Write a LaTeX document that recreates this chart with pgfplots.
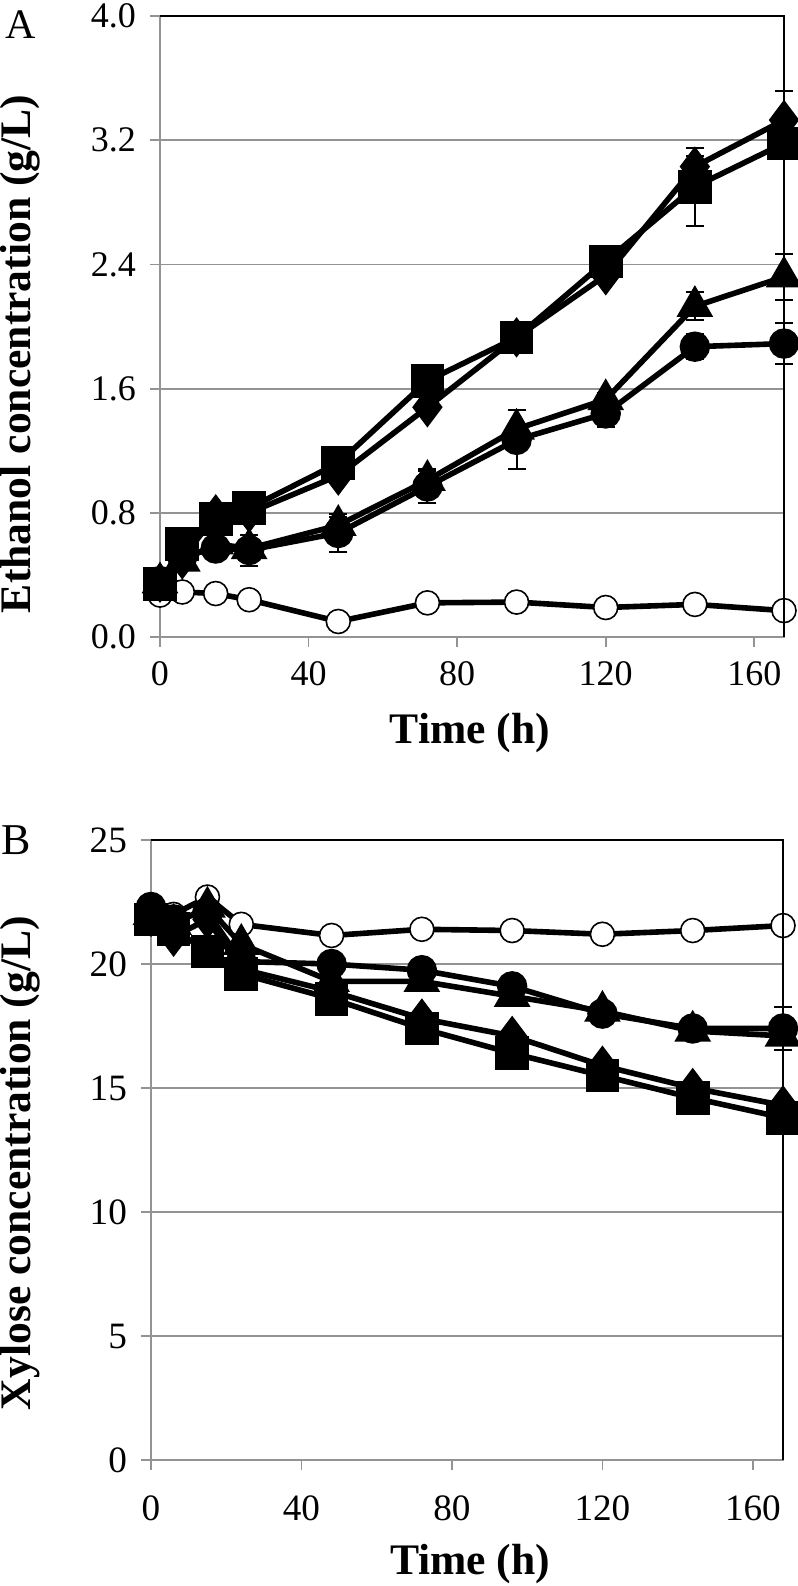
\documentclass[border=0pt]{standalone}
\usepackage{fontspec}
\setmainfont{Liberation Serif}
\usepackage{pgfplots}
\pgfplotsset{compat=1.18}
\begin{document}
\begin{tikzpicture}
\path[use as bounding box] (0,0) rectangle (199.5pt,-396.5pt);
\pgfplotsset{
 common/.style={
  scale only axis, anchor=north west,
  xmin=0, xmax=168, xtick={0,40,80,120,160},
  axis line style={draw=gray!85, line width=0.45pt},
  tick style={draw=gray!85, line width=0.45pt},
  tick align=outside, tick pos=left, major tick length=2.5pt,
  ymajorgrids, grid style={gray!85, line width=0.45pt},
  /pgf/number format/assume math mode=true,
  ticklabel style={font=\fontsize{9}{10}\selectfont},
  clip=false,
  after end axis/.code={\draw[black, line width=0.45pt] (rel axis cs:0,1) -- (rel axis cs:1,1) -- (rel axis cs:1,0);},
  error bars/error bar style={line width=0.5pt, black},
  error bars/error mark options={rotate=90, mark size=2.25pt, line width=0.5pt, black},
 },
 ln/.style={black, line width=1.4pt},
 sq/.style={ln, mark=square*, mark size=3.5pt, mark options={solid, fill=black}},
 dm/.style={ln, mark=diamond*, mark size=3.9pt, mark options={solid, fill=black}},
 tr/.style={ln, mark=triangle*, mark size=3.9pt, mark options={solid, fill=black}},
 ci/.style={ln, mark=*, mark size=3.1pt, mark options={solid, fill=black}},
 oc/.style={ln, mark=*, mark size=3.0pt, mark options={solid, fill=white, draw=black, line width=0.4pt}},
 ocerr/.style={draw=none, mark=none, forget plot, error bars/.cd, y dir=both, y explicit,
   error bar style={draw=black, line width=0.3pt},
   error mark options={draw=black, rotate=90, mark size=1.3pt, line width=0.3pt}},
}
% Panel A
\begin{axis}[common,
  at={(40pt,-4pt)}, width=156pt, height=155.25pt,
  ymin=0, ymax=4, ytick={0,0.8,1.6,2.4,3.2,4.0},
  yticklabel style={/pgf/number format/.cd, fixed, fixed zerofill, precision=1},
  xlabel={\fontsize{10.9}{12}\selectfont\bfseries Time (h)},
  ylabel={\fontsize{10.9}{12}\selectfont\bfseries Ethanol concentration (g/L)},
  every axis x label/.style={at={(axis description cs:0.497,-0.155)}, anchor=center},
  every axis y label/.style={at={(axis description cs:-0.224,0.456)}, rotate=90, anchor=center},
]
\addplot[oc] coordinates {
 (0,0.27) (6,0.29) (15,0.28) (24,0.24) (48,0.10) (72,0.22) (96,0.225) (120,0.19) (144,0.21) (168,0.17)};
\addplot[ocerr] coordinates {
 (0,0.27) +- (0,0.025) (6,0.29) +- (0,0.025) (15,0.28) +- (0,0.025) (24,0.24) +- (0,0.035)
 (48,0.10) +- (0,0.025) (72,0.22) +- (0,0.025) (96,0.225) +- (0,0.025) (120,0.19) +- (0,0.025)
 (144,0.21) +- (0,0.025) (168,0.17) +- (0,0.025)};
\addplot[ci, error bars/.cd, y dir=both, y explicit] coordinates {
 (0,0.36) +- (0,0.02) (6,0.52) +- (0,0.02) (15,0.57) +- (0,0.04) (24,0.56) +- (0,0.10)
 (48,0.67) +- (0,0.12) (72,0.97) +- (0,0.11) (96,1.27) +- (0,0.19) (120,1.44) +- (0,0.09)
 (144,1.87) +- (0,0.08) (168,1.89) +- (0,0.13)};
\addplot[tr, error bars/.cd, y dir=both, y explicit] coordinates {
 (0,0.35) +- (0,0.02) (6,0.49) +- (0,0.02) (15,0.60) +- (0,0.03) (24,0.57) +- (0,0.05)
 (48,0.72) +- (0,0.05) (72,1.01) +- (0,0.06) (96,1.34) +- (0,0.12) (120,1.53) +- (0,0.04)
 (144,2.13) +- (0,0.09) (168,2.32) +- (0,0.15)};
\addplot[dm, error bars/.cd, y dir=both, y explicit] coordinates {
 (0,0.35) +- (0,0.02) (6,0.50) +- (0,0.02) (15,0.79) +- (0,0.03) (24,0.80) +- (0,0.03)
 (48,1.04) +- (0,0.03) (72,1.48) +- (0,0.03) (96,1.93) +- (0,0.03) (120,2.33) +- (0,0.03)
 (144,3.03) +- (0,0.07) (168,3.33) +- (0,0.19)};
\addplot[sq, error bars/.cd, y dir=both, y explicit] coordinates {
 (0,0.34) +- (0,0.02) (6,0.60) +- (0,0.03) (15,0.76) +- (0,0.03) (24,0.83) +- (0,0.03)
 (48,1.12) +- (0,0.03) (72,1.65) +- (0,0.03) (96,1.93) +- (0,0.03) (120,2.42) +- (0,0.03)
 (144,2.90) +- (0,0.25) (168,3.18) +- (0,0.09)};
\end{axis}
% Panel B
\begin{axis}[common,
  at={(37.75pt,-210pt)}, width=158pt, height=155pt,
  ymin=0, ymax=25, ytick={0,5,10,15,20,25},
  ticklabel style={font=\fontsize{9.3}{10}\selectfont},
  xticklabel style={yshift=-3pt},
  xlabel={\fontsize{10.9}{12}\selectfont\bfseries Time (h)},
  ylabel={\fontsize{10.9}{12}\selectfont\bfseries Xylose concentration (g/L)},
  every axis x label/.style={at={(axis description cs:0.505,-0.168)}, anchor=center},
  every axis y label/.style={at={(axis description cs:-0.207,0.479)}, rotate=90, anchor=center},
]
\addplot[oc] coordinates {
 (0,22.0) (6,22.0) (15,22.7) (24,21.6) (48,21.15) (72,21.4) (96,21.35) (120,21.2) (144,21.35) (168,21.55)};
\addplot[ocerr] coordinates {
 (0,22.0) +- (0,0.2) (6,22.0) +- (0,0.2) (15,22.7) +- (0,0.2) (24,21.6) +- (0,0.2)
 (48,21.15) +- (0,0.3) (72,21.4) +- (0,0.3) (96,21.35) +- (0,0.3) (120,21.2) +- (0,0.3)
 (144,21.35) +- (0,0.3) (168,21.55) +- (0,0.3)};
\addplot[ci, error bars/.cd, y dir=both, y explicit] coordinates {
 (0,22.3) +- (0,0.2) (6,21.8) +- (0,0.2) (15,22.1) +- (0,0.2) (24,20.1) +- (0,0.2)
 (48,20.0) +- (0,0.2) (72,19.75) +- (0,0.2) (96,19.1) +- (0,0.2) (120,18.0) +- (0,0.2)
 (144,17.4) +- (0,0.2) (168,17.4) +- (0,0.85)};
\addplot[tr, error bars/.cd, y dir=both, y explicit] coordinates {
 (0,22.0) +- (0,0.2) (6,21.6) +- (0,0.2) (15,22.3) +- (0,0.2) (24,20.8) +- (0,0.2)
 (48,19.3) +- (0,0.2) (72,19.3) +- (0,0.2) (96,18.7) +- (0,0.2) (120,18.1) +- (0,0.2)
 (144,17.3) +- (0,0.2) (168,17.1) +- (0,0.2)};
\addplot[dm, error bars/.cd, y dir=both, y explicit] coordinates {
 (0,21.9) +- (0,0.2) (6,21.1) +- (0,0.2) (15,21.8) +- (0,0.2) (24,19.8) +- (0,0.2)
 (48,18.9) +- (0,0.2) (72,17.8) +- (0,0.2) (96,17.1) +- (0,0.2) (120,15.9) +- (0,0.2)
 (144,15.0) +- (0,0.2) (168,14.3) +- (0,0.2)};
\addplot[sq, error bars/.cd, y dir=both, y explicit] coordinates {
 (0,21.8) +- (0,0.2) (6,21.4) +- (0,0.2) (15,20.5) +- (0,0.2) (24,19.6) +- (0,0.2)
 (48,18.6) +- (0,0.2) (72,17.4) +- (0,0.2) (96,16.4) +- (0,0.2) (120,15.5) +- (0,0.2)
 (144,14.6) +- (0,0.2) (168,13.8) +- (0,0.2)};
\end{axis}
\node[font=\fontsize{10.5}{11}\selectfont] at (5.25pt,-6.25pt) {A};
\node[font=\fontsize{11}{12}\selectfont] at (4pt,-210pt) {B};
\end{tikzpicture}
\end{document}
